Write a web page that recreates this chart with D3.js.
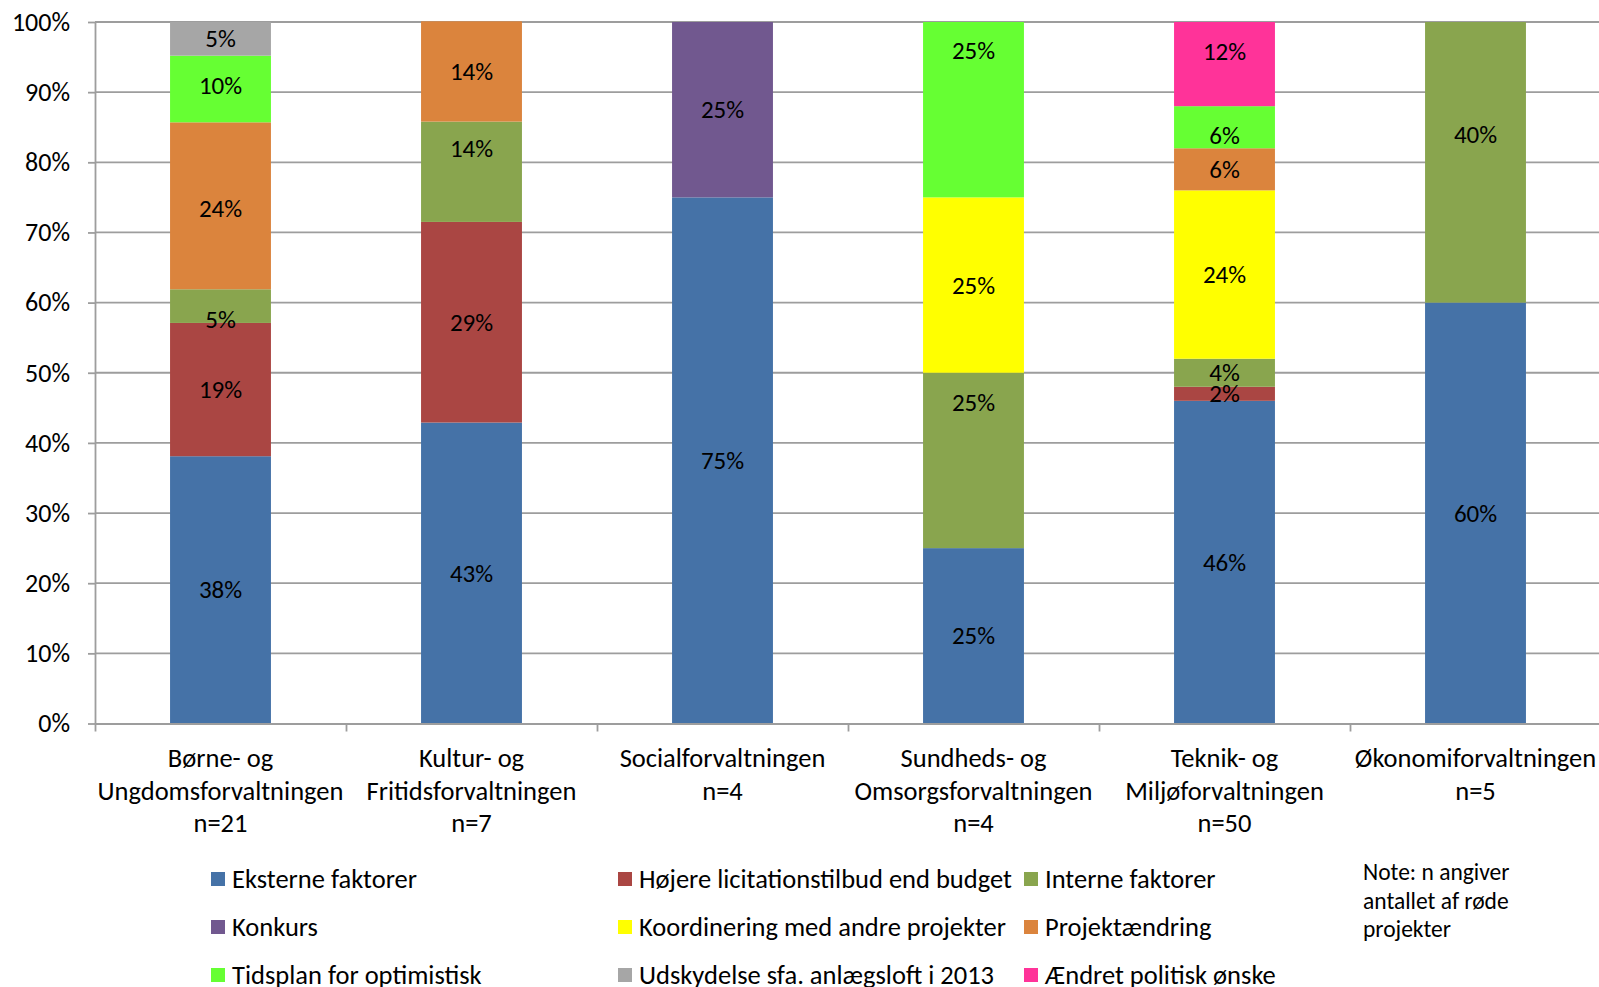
<!DOCTYPE html>
<html>
<head>
<meta charset="utf-8">
<script src="https://cdn.jsdelivr.net/npm/d3@7"></script>
<style>
  html, body { margin: 0; padding: 0; background: #fff; }
  svg { display: block; }
  text { font-family: Carlito, Lato, "Open Sans", sans-serif; fill: #000; }
</style>
</head>
<body>
<svg id="chart" width="1599" height="987"></svg>
<script>
// ---------- DATA ----------
const categories = [
  "Børne- og\nUngdomsforvaltningen",
  "Kultur- og\nFritidsforvaltningen",
  "Socialforvaltningen",
  "Sundheds- og\nOmsorgsforvaltningen",
  "Teknik- og\nMiljøforvaltningen",
  "Økonomiforvaltningen"
];
const nValues = [21, 7, 4, 4, 50, 5];

const seriesNames = [
  "Eksterne faktorer",
  "Højere licitationstilbud end budget",
  "Interne faktorer",
  "Konkurs",
  "Koordinering med andre projekter",
  "Projektændring",
  "Tidsplan for optimistisk",
  "Udskydelse sfa. anlægsloft i 2013",
  "Ændret politisk ønske"
];
const eksterne     = [38.1, 42.9, 75, 25, 46, 60];
const hojere       = [19.0, 28.6,  0,  0,  2,  0];
const interne      = [ 4.8, 14.3,  0, 25,  4, 40];
const konkurs      = [ 0,    0,   25,  0,  0,  0];
const koordinering = [ 0,    0,    0, 25, 24,  0];
const projekt      = [23.8, 14.3,  0,  0,  6,  0];
const tidsplan     = [ 9.5,  0,    0, 25,  6,  0];
const udskydelse   = [ 4.8,  0,    0,  0,  0,  0];
const aendret      = [ 0,    0,    0,  0, 12,  0];
const seriesValues = [eksterne, hojere, interne, konkurs, koordinering, projekt, tidsplan, udskydelse, aendret];

const yTicks = [0, 10, 20, 30, 40, 50, 60, 70, 80, 90, 100];
const noteLines = ["Note: n angiver", "antallet af røde", "projekter"];

// ---------- STYLE ----------
const colors = ["#4572A7", "#AA4643", "#89A54E", "#71588F", "#FFFF00", "#DB843D", "#66FF33", "#A6A6A6", "#FF3399"];
// manual label nudges (px) as in the original Excel chart: key = "category-series"
const labelNudge = { "0-2": 13, "0-6": -3, "0-5": 3, "1-2": -23, "3-6": -59, "3-2": -58, "4-8": -13, "4-6": 8, "5-2": -28 };

// ---------- LAYOUT ----------
const svg = d3.select("#chart");
const plotLeft = 95, plotRight = 1601, plotTop = 22, plotBottom = 723.5;
const gridColor = "#9d9d9d";

const x = d3.scaleBand().domain(categories).range([plotLeft, plotRight])
  .paddingInner(0.598).paddingOuter(0.299);
const y = d3.scaleLinear().domain([0, 100]).range([plotBottom, plotTop]);
const xb = d3.scaleLinear().domain([0, categories.length]).range([plotLeft, plotRight]);

// gridlines
svg.append("g").selectAll("line").data(yTicks.filter(d => d > 0)).join("line")
  .attr("x1", plotLeft).attr("x2", plotRight)
  .attr("y1", d => y(d)).attr("y2", d => y(d))
  .attr("stroke", gridColor).attr("stroke-width", 1.8);

// stacked data
const table = categories.map((c, i) => {
  const row = { cat: c };
  seriesNames.forEach((s, j) => row[s] = seriesValues[j][i]);
  return row;
});
const stacked = d3.stack().keys(seriesNames)(table);

const gBars = svg.append("g");
stacked.forEach((layer, j) => {
  gBars.append("g").attr("fill", colors[j]).selectAll("rect")
    .data(layer.filter(d => d[1] - d[0] > 0)).join("rect")
    .attr("x", d => x(d.data.cat))
    .attr("width", x.bandwidth())
    .attr("y", d => y(d[1]))
    .attr("height", d => y(d[0]) - y(d[1]));
});

// data labels
const gLabels = svg.append("g");
stacked.forEach((layer, j) => {
  layer.forEach((d, i) => {
    const v = d[1] - d[0];
    if (v <= 0) return;
    const nudge = labelNudge[i + "-" + j] || 0;
    gLabels.append("text")
      .attr("x", x(d.data.cat) + x.bandwidth() / 2)
      .attr("y", (y(d[0]) + y(d[1])) / 2 + nudge)
      .attr("text-anchor", "middle")
      .attr("dominant-baseline", "central")
      .attr("font-size", 25)
      .text(Math.round(v) + "%");
  });
});

// y axis
const yAxis = svg.append("g").attr("transform", `translate(${plotLeft},0)`)
  .call(d3.axisLeft(y).tickValues(yTicks).tickFormat(d => d + "%").tickSize(7).tickSizeOuter(0).tickPadding(18));
yAxis.selectAll("path, line").attr("stroke", gridColor).attr("stroke-width", 1.8);
yAxis.selectAll("text").attr("font-size", 26).attr("font-family", "Carlito, Lato, sans-serif").attr("fill", "#000");

// x axis (category boundaries)
const xAxis = svg.append("g").attr("transform", `translate(0,${plotBottom})`)
  .call(d3.axisBottom(xb).tickValues(d3.range(categories.length + 1)).tickFormat("").tickSize(8).tickSizeOuter(0));
xAxis.selectAll("path, line").attr("stroke", gridColor).attr("stroke-width", 1.8);

// category labels
const gCat = svg.append("g");
categories.forEach((c, i) => {
  const lines = c.split("\n").concat(["n=" + nValues[i]]);
  const t = gCat.append("text")
    .attr("text-anchor", "middle")
    .attr("font-size", 26.5);
  lines.forEach((ln, k) => {
    t.append("tspan")
      .attr("x", x(c) + x.bandwidth() / 2)
      .attr("y", 758 + k * 32.5)
      .attr("dominant-baseline", "central")
      .text(ln);
  });
});

// legend
const legendCols = [211, 618, 1024], legendRows = [879, 927, 975];
const gLeg = svg.append("g");
seriesNames.forEach((s, j) => {
  const lx = legendCols[j % 3], ly = legendRows[Math.floor(j / 3)];
  gLeg.append("rect").attr("x", lx).attr("y", ly - 7).attr("width", 14).attr("height", 14).attr("fill", colors[j]);
  gLeg.append("text").attr("x", lx + 21).attr("y", ly)
    .attr("dominant-baseline", "central").attr("font-size", 26.5).text(s);
});

// note
const gNote = svg.append("g");
noteLines.forEach((ln, k) => {
  gNote.append("text").attr("x", 1363).attr("y", 872 + k * 28.5)
    .attr("dominant-baseline", "central").attr("font-size", 23.5).text(ln);
});
</script>
</body>
</html>
